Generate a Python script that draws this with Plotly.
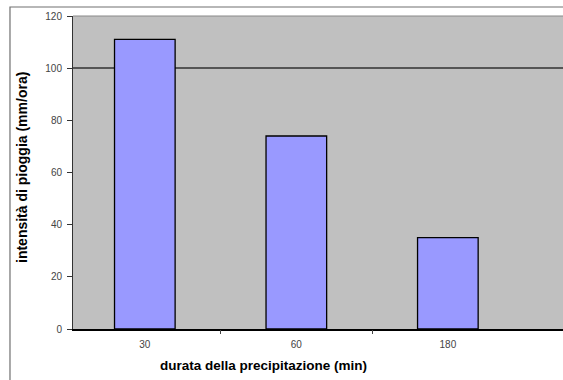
import plotly.graph_objects as go

categories = ["30", "60", "180"]
intensity = [111, 74, 35]
y_ticks = [0, 20, 40, 60, 80, 100, 120]
grid_vals = [100]
boundary_ticks = [0.5, 1.5]

x_range = [-0.474, 2.76]

fig = go.Figure()
fig.add_trace(go.Bar(
    x=categories, y=intensity, width=0.4,
    marker=dict(color="#9999FF", line=dict(color="black", width=1.3)),
    showlegend=False,
))
# invisible trace for gridline / boundary tick axes
fig.add_trace(go.Scatter(x=[0, 1, 2], y=intensity, xaxis="x2", yaxis="y2", mode="none",
                         showlegend=False, hoverinfo="skip"))

font_fam = "Liberation Sans, Arial, sans-serif"
fig.update_layout(
    width=563, height=380,
    margin=dict(l=73, r=0, t=16, b=51),
    paper_bgcolor="white",
    plot_bgcolor="#C0C0C0",
    font=dict(family=font_fam, size=10, color="#444"),
    xaxis=dict(
        type="category", range=x_range, automargin=False,
        showline=True, linecolor="black", linewidth=1.5,
        ticks="", showgrid=False, tickfont=dict(size=10, color="#444"),
        ticklabelstandoff=5,
        title=None,
    ),
    xaxis2=dict(
        overlaying="x", type="linear", range=x_range, automargin=False,
        tickmode="array", tickvals=boundary_ticks, ticks="outside", ticklen=4,
        tickcolor="#444", showticklabels=False, showgrid=False, zeroline=False,
        showline=False, side="bottom",
    ),
    yaxis=dict(
        range=[0, 120], tickmode="array", tickvals=y_ticks, automargin=False,
        showgrid=False, zeroline=False,
        showline=True, linecolor="#333", linewidth=1,
        ticks="outside", ticklen=5, tickcolor="#333",
        tickfont=dict(size=10, color="#444"),
        ticklabelstandoff=3,
        title=None,
    ),
    yaxis2=dict(
        overlaying="y", range=[0, 120], tickmode="array", tickvals=grid_vals,
        automargin=False,
        showgrid=True, gridcolor="#555555", gridwidth=1.5,
        showticklabels=False, zeroline=False, showline=False, ticks="",
    ),
    shapes=[
        dict(type="rect", xref="paper", yref="paper",
             x0=-0.1286, x1=1.2, y0=-0.3, y1=1.0288,
             line=dict(color="#707070", width=1.2), layer="below"),
        dict(type="line", xref="paper", yref="paper",
             x0=0, x1=1, y0=1, y1=1,
             line=dict(color="#888888", width=1)),
    ],
    annotations=[
        dict(text="<b>durata della precipitazione (min)</b>",
             xref="paper", yref="paper", x=(263 - 73) / 490, y=-36 / 313,
             xanchor="center", yanchor="middle", showarrow=False,
             font=dict(size=13.5, color="black", family=font_fam)),
        dict(text="<b>intensità di pioggia (mm/ora)</b>",
             xref="paper", yref="paper", x=(22 - 73) / 490, y=(329 - 168) / 313,
             xanchor="center", yanchor="middle", showarrow=False, textangle=-90,
             font=dict(size=14, color="black", family=font_fam)),
    ],
)

fig.write_html("out.html", config={"displayModeBar": False},
               post_script="document.body.style.margin='0';")
